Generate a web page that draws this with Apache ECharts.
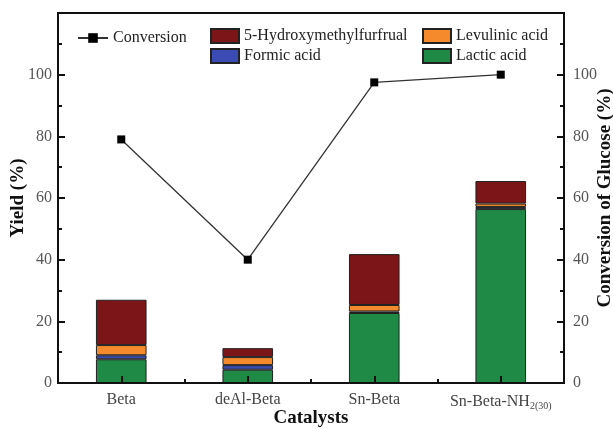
<!DOCTYPE html>
<html>
<head>
<meta charset="utf-8">
<script src="https://cdn.jsdelivr.net/npm/echarts@6/dist/echarts.min.js"></script>
<style>
  html, body { margin: 0; padding: 0; background: #fff; }
  #main { width: 613px; height: 429px; }
</style>
</head>
<body>
<div id="main"></div>
<script>
// data
let catalysts = ['Beta', 'deAl-Beta', 'Sn-Beta', 'Sn-Beta-NH2(30)'];
let lacticAcid = [7.7, 4.3, 22.7, 56.4];
let formicAcid = [1.3, 1.5, 0.5, 0.7];
let levulinicAcid = [3.3, 2.6, 2.1, 1.1];
let hmf = [14.7, 2.9, 16.5, 7.3];
let conversion = [79, 40, 97.5, 100];
let yTicks = [0, 20, 40, 60, 80, 100];

let font = 'Liberation Serif';
let frame = { show: true, lineStyle: { color: '#111', width: 2 } };
let legendText = { fontFamily: font, fontSize: 16, color: '#222' };
let nameStyle = { fontFamily: font, fontSize: 19, fontWeight: 'bold', color: '#111' };

function tickLabel(v) {
    return yTicks.indexOf(v) >= 0 ? String(v) : '';
}

function catLabel(v) {
    if (v === 'Sn-Beta-NH2(30)') return '{a|Sn-Beta-NH}{s|2(30)}';
    return '{a|' + v + '}';
}

function barSeries(name, data, color) {
    return {
        name: name,
        type: 'bar',
        stack: 'yield',
        barWidth: '40%',
        data: data,
        itemStyle: { color: color, borderColor: '#222', borderWidth: 1 }
    };
}

function valueAxis(name, gap, labelMargin) {
    return {
        type: 'value',
        min: 0, max: 120, interval: 20,
        name: name,
        nameLocation: 'middle',
        nameGap: gap,
        nameRotate: 90,
        nameMoveOverlap: false,
        nameTextStyle: nameStyle,
        z: 10,
        axisLine: frame,
        axisTick: { show: true, inside: true, length: 7, lineStyle: { width: 2, color: '#111' } },
        minorTick: { show: true, splitNumber: 2, length: 4, lineStyle: { width: 2, color: '#111' } },
        axisLabel: { formatter: tickLabel, fontFamily: font, fontSize: 16, color: '#555', margin: labelMargin },
        splitLine: { show: false }
    };
}

let options = {
    animation: false,
    textStyle: { fontFamily: font },
    grid: {
        left: 58, right: 49, top: 13, bottom: 46,
        outerBoundsMode: 'none', containLabel: false,
        show: true, borderColor: '#111', borderWidth: 2
    },
    legend: [
        {
            data: ['Conversion'], left: 72, top: 25, itemWidth: 30, itemHeight: 12,
            textStyle: legendText
        },
        {
            data: [{ name: '5-Hydroxymethylfurfrual', icon: 'rect' }, { name: 'Formic acid', icon: 'rect' }],
            orient: 'vertical', left: 205, top: 23,
            itemWidth: 28, itemHeight: 14, itemGap: 4,
            textStyle: legendText
        },
        {
            data: [{ name: 'Levulinic acid', icon: 'rect' }, { name: 'Lactic acid', icon: 'rect' }],
            orient: 'vertical', left: 417, top: 23,
            itemWidth: 28, itemHeight: 14, itemGap: 4,
            textStyle: legendText
        }
    ],
    xAxis: [
        {
            type: 'category',
            data: catalysts,
            position: 'bottom',
            name: 'Catalysts',
            nameLocation: 'middle',
            nameGap: 26,
            nameMoveOverlap: false,
            nameTextStyle: nameStyle,
            z: 10,
            axisLine: frame,
            axisTick: { show: true, interval: 0, inside: true, alignWithLabel: true, length: 7, lineStyle: { width: 2, color: '#111' } },
            axisLabel: {
                interval: 0,
                margin: 9,
                formatter: catLabel,
                rich: {
                    a: { fontFamily: font, fontSize: 16, color: '#444' },
                    s: { fontFamily: font, fontSize: 10, color: '#444', padding: [9, 0, 0, 0] }
                }
            }
        },
        {
            type: 'category',
            data: catalysts,
            position: 'bottom',
            z: 10,
            axisLine: { show: false },
            axisTick: { show: true, interval: 0, inside: true, length: 4, lineStyle: { width: 2, color: '#111' } },
            axisLabel: { show: false }
        }
    ],
    yAxis: [
        valueAxis('Yield (%)', 30, 6),
        valueAxis('Conversion of Glucose (%)', 32, 9)
    ],
    series: [
        barSeries('Lactic acid', lacticAcid, '#1e8a46'),
        barSeries('Formic acid', formicAcid, '#3a4cb4'),
        barSeries('Levulinic acid', levulinicAcid, '#f48a2c'),
        barSeries('5-Hydroxymethylfurfrual', hmf, '#7b1517'),
        {
            name: 'Conversion',
            type: 'line',
            yAxisIndex: 1,
            data: conversion,
            symbol: 'rect',
            symbolSize: 8,
            itemStyle: { color: '#000' },
            lineStyle: { color: '#333', width: 1.3 }
        }
    ]
};

let myChart = echarts.init(document.getElementById('main'));
myChart.setOption(options);
</script>
</body>
</html>
